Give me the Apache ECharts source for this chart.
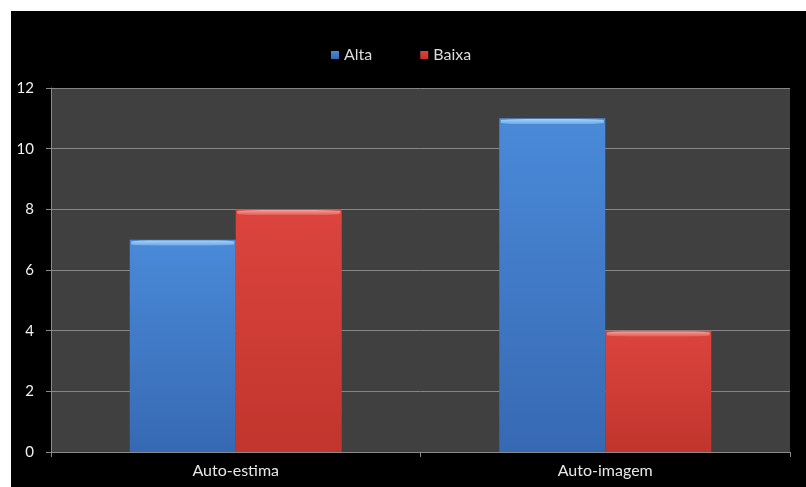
<!DOCTYPE html>
<html>
<head>
<meta charset="utf-8">
<script src="https://cdn.jsdelivr.net/npm/echarts@6/dist/echarts.min.js"></script>
<style>
  html, body { margin: 0; padding: 0; background: #ffffff; }
  #chart { width: 806px; height: 487px; }
</style>
</head>
<body>
<div id="chart"></div>
<script>
// Categories and series values
const categories = ['Auto-estima', 'Auto-imagem'];
const altaValues = [7, 11];
const baixaValues = [8, 4];
const seriesNames = ['Alta', 'Baixa'];
const yTicks = [0, 2, 4, 6, 8, 10, 12];

const chart = echarts.init(document.getElementById('chart'), null, { renderer: 'canvas' });

function vGrad(top, bottom) {
  return new echarts.graphic.LinearGradient(0, 0, 0, 1, [
    { offset: 0, color: top },
    { offset: 1, color: bottom }
  ]);
}

const BAR_W = 106;
const FONT = 'Lato';

const option = {
  backgroundColor: 'transparent',
  animation: false,
  graphic: [
    { type: 'rect', z: -10, shape: { x: 11, y: 11, width: 806, height: 487 }, style: { fill: '#000000' } }
  ],
  legend: {
    data: seriesNames,
    top: 42,
    left: 326,
    itemWidth: 8,
    itemHeight: 8,
    itemGap: 48,
    icon: 'rect',
    textStyle: { color: '#dcdcdc', fontFamily: FONT, fontSize: 16 }
  },
  grid: {
    left: 51, right: 16, top: 88, bottom: 35,
    show: true, backgroundColor: '#404040', borderWidth: 0
  },
  xAxis: {
    type: 'category',
    data: categories,
    axisLine: { lineStyle: { color: '#8a8a8a', width: 1 } },
    axisTick: { show: true, length: 5, lineStyle: { color: '#8a8a8a' } },
    axisLabel: { color: '#e6e6e6', fontFamily: FONT, fontSize: 16, margin: 11 },
    splitLine: { show: false }
  },
  yAxis: {
    type: 'value',
    min: yTicks[0],
    max: yTicks[yTicks.length - 1],
    interval: 2,
    axisLine: { show: true, lineStyle: { color: '#8a8a8a', width: 1 } },
    axisTick: { show: true, length: 5, lineStyle: { color: '#8a8a8a' } },
    axisLabel: { color: '#f0f0f0', fontFamily: FONT, fontSize: 15, margin: 17 },
    splitLine: { lineStyle: { color: '#868686', width: 1 } }
  },
  series: [
    {
      name: 'Alta', type: 'bar', data: altaValues, barWidth: BAR_W, barGap: '0%',
      itemStyle: { color: vGrad('#4a8ad9', '#3769b3') },
      z: 2
    },
    {
      name: 'Baixa', type: 'bar', data: baixaValues, barWidth: BAR_W, barGap: '0%',
      itemStyle: { color: vGrad('#dc443e', '#c0352d') },
      z: 2
    },
    // light caps along the top edge of each bar
    {
      name: 'Alta', type: 'pictorialBar', data: altaValues, symbol: 'roundRect',
      symbolSize: [BAR_W - 3, 5], symbolPosition: 'end', symbolOffset: [0, '15%'],
      barGap: '0%', barWidth: BAR_W,
      itemStyle: { color: vGrad('#a8d2f6', '#6fa9e7') }, z: 3, legendHoverLink: false
    },
    {
      name: 'Baixa', type: 'pictorialBar', data: baixaValues, symbol: 'roundRect',
      symbolSize: [BAR_W - 3, 5], symbolPosition: 'end', symbolOffset: [0, '15%'],
      barGap: '0%', barWidth: BAR_W,
      itemStyle: { color: vGrad('#f4a09a', '#e35b53') }, z: 3, legendHoverLink: false
    }
  ],
  color: ['#4a8ad9', '#dc443e']
};

chart.setOption(option);
</script>
</body>
</html>
